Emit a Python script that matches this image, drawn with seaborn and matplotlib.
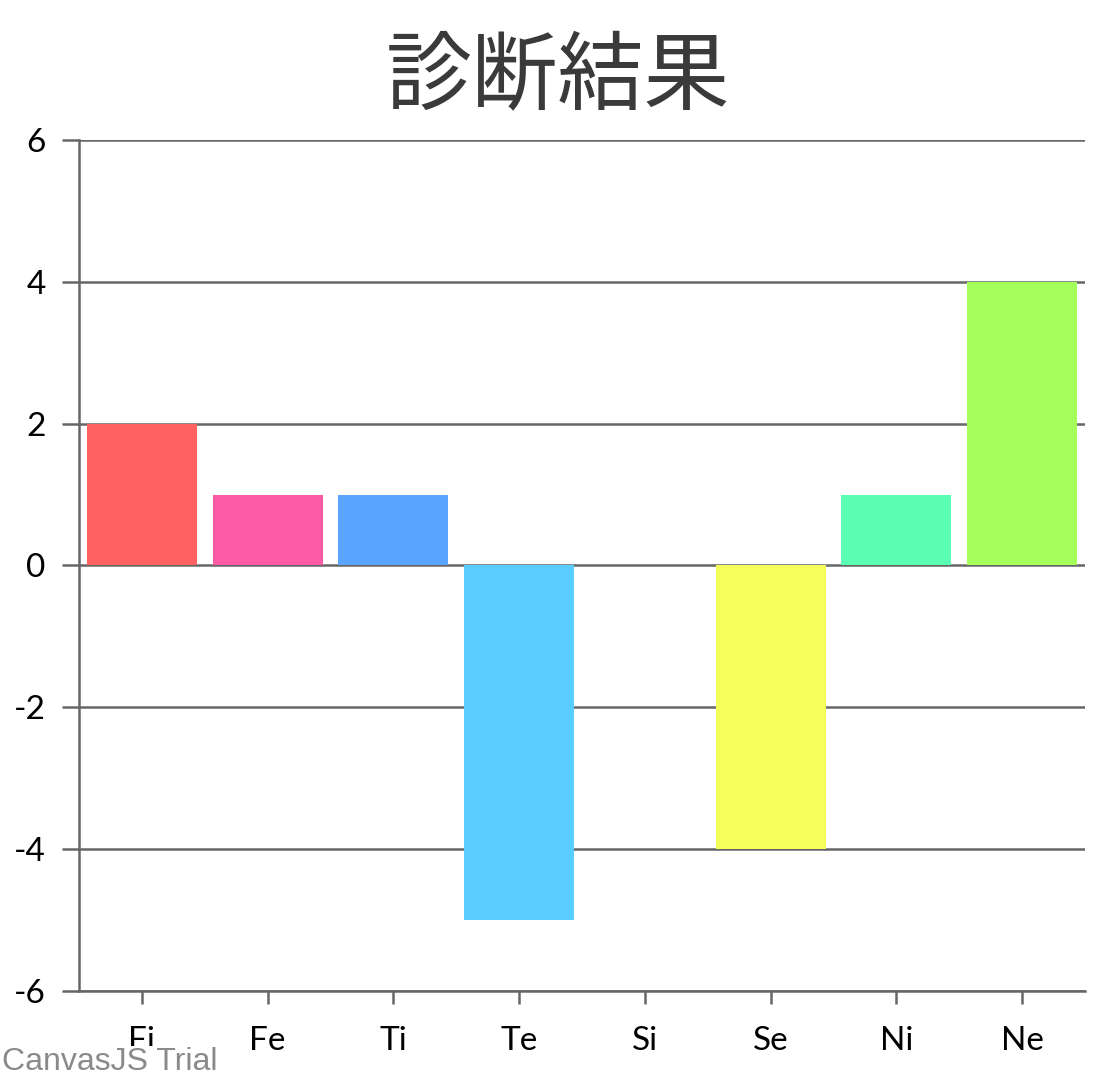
import matplotlib
matplotlib.use("Agg")
import matplotlib.pyplot as plt
import seaborn as sns
import pandas as pd

# Chart data
categories = ["Fi", "Fe", "Ti", "Te", "Si", "Se", "Ni", "Ne"]
values = [2, 1, 1, -5, 0, -4, 1, 4]
bar_colors = ["#FF6060", "#FF5AA5", "#5AA5FF", "#5ACDFF",
              "#5AFFB4", "#F5FF5A", "#5AFFB4", "#A5FF5A"]
y_ticks = [-6, -4, -2, 0, 2, 4, 6]
title = "診断結果"

sns.set_theme(style = "white")
plt.rcParams['font.family'] = ['Lato', 'DejaVu Sans']

df = pd.DataFrame({"type": categories, "score": values})

fig = plt.figure(figsize = (11.16, 10.8), dpi = 100)
ax = fig.add_axes([0.0708, 0.0824, 0.9014, 0.788])

line_color = "#666666"

sns.barplot(data = df, x = "type", y = "score", hue = "type",
            palette = dict(zip(categories, bar_colors)), legend = False,
            width = 0.875, saturation = 1, linewidth = 0, ax = ax, zorder = 3)

ax.set_ylim(-6, 6)
ax.set_xlim(-0.5, 7.5)
ax.set_yticks(y_ticks)
ax.set_yticklabels([str(t) for t in y_ticks])
ax.yaxis.grid(True, color = line_color, linewidth = 1.8, zorder = 0)
ax.set_axisbelow(True)
ax.set_xlabel("")
ax.set_ylabel("")

sns.despine(ax = ax, top = True, right = True)
for side in ["left", "bottom"]:
    ax.spines[side].set_color(line_color)
    ax.spines[side].set_linewidth(1.8)

ax.tick_params(axis = "y", length = 12, width = 1.8, color = line_color,
               labelsize = 24, labelcolor = "black", pad = 12, left = True)
ax.tick_params(axis = "x", length = 9, width = 1.8, color = line_color,
               labelsize = 24, labelcolor = "black", pad = 16, bottom = True)

fig.text(0.5, 0.928, title, ha = "center", va = "center", fontsize = 62,
         color = "#3a3a3a", family = ['Noto Sans CJK JP', 'DejaVu Sans'])

# Watermark
fig.text(0.002, 0.003, "CanvasJS Trial", ha = "left", va = "bottom",
         fontsize = 23, color = "#8a8a8a", family = ['Liberation Sans'],
         bbox = dict(facecolor = "white", edgecolor = "none", pad = 0.5))

fig.savefig("out.png", dpi = 100)
